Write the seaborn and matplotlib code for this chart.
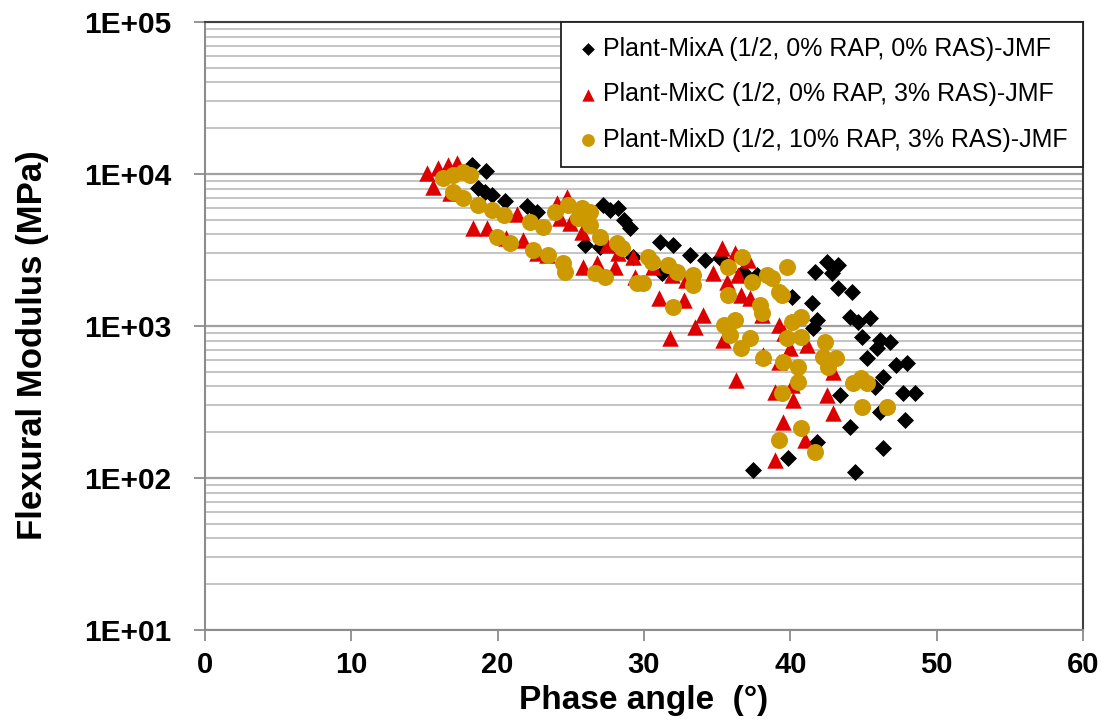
import numpy as np
import pandas as pd
import matplotlib
matplotlib.use("Agg")
import matplotlib.pyplot as plt
from matplotlib.ticker import FixedLocator, FuncFormatter, LogLocator, NullFormatter
import seaborn as sns

# ---------------- data ----------------
labels = ["Plant-MixA (1/2, 0% RAP, 0% RAS)-JMF",
          "Plant-MixC (1/2, 0% RAP, 3% RAS)-JMF",
          "Plant-MixD (1/2, 10% RAP, 3% RAS)-JMF"]

mixA_phase = [18.25, 19.2, 18.66, 19.14, 19.62, 20.5, 22.0, 22.7, 27.2, 27.7, 28.2, 28.6,
              29.05, 26.0, 27.0, 29.25, 31.1, 32.0, 33.15, 34.2, 35.2, 31.24, 36.77, 37.7,
              41.7, 42.5, 42.86, 43.27, 43.27, 44.2, 40.1, 41.5, 41.8, 41.56, 44.1, 44.6,
              45.45, 44.9, 46.1, 46.8, 45.9, 45.25, 47.2, 48.0, 46.35, 45.8, 43.4, 47.7,
              48.5, 46.1, 47.85, 44.1, 41.8, 46.3, 44.4, 39.85, 37.46]
mixA_mod = [11460, 10470, 8090, 7620, 7280, 6640, 6150, 5620, 6250, 5800, 5970, 4980,
            4410, 3410, 3310, 2840, 3570, 3410, 2930, 2720, 2800, 2230, 2270, 2170,
            2270, 2640, 2230, 2520, 1780, 1670, 1550, 1420, 1090, 970, 1150, 1060,
            1130, 850, 810, 785, 717, 615, 553, 571, 462, 397, 352, 362,
            362, 272, 241, 217, 173, 157, 109, 136, 113]

mixC_phase = [15.17, 15.93, 16.6, 17.2, 15.58, 16.75, 18.3, 19.3, 20.6, 21.3, 21.7, 22.7,
              23.4, 24.06, 24.74, 24.27, 24.95, 25.77, 25.84, 26.8, 28.0, 27.5, 28.2, 29.25,
              29.4, 30.6, 31.0, 32.7, 31.9, 32.9, 35.3, 36.2, 37.1, 34.7, 35.7, 36.4,
              36.6, 37.25, 38.07, 34.0, 33.5, 31.8, 35.4, 39.2, 39.6, 41.15, 38.1, 39.2,
              40.0, 42.9, 36.3, 40.1, 38.96, 40.2, 42.5, 42.9, 39.5, 41.0, 38.96]
mixC_mod = [10150, 10940, 11460, 11810, 8210, 7500, 4410, 4410, 3790, 5460, 3680, 3020,
            2930, 6440, 7060, 5140, 4770, 4150, 2440, 2590, 2440, 3410, 3020, 2840,
            2100, 2440, 1530, 1480, 2170, 2010, 3260, 3020, 2720, 2230, 1950, 2170,
            1600, 1530, 1180, 1180, 985, 834, 810, 1016, 900, 750, 644, 580,
            717, 498, 442, 409, 368, 326, 352, 268, 234, 178, 131]

mixD_phase = [16.27, 16.95, 17.6, 18.1, 16.95, 17.6, 18.66, 19.6, 20.4, 22.2, 23.1, 19.96,
              20.85, 22.4, 23.45, 24.47, 24.6, 23.9, 24.8, 25.77, 26.3, 25.5, 26.3, 27.0,
              28.16, 28.5, 26.66, 27.34, 29.5, 29.9, 30.3, 30.55, 31.65, 32.26, 33.36, 33.36,
              32.0, 35.75, 36.7, 37.4, 38.4, 38.75, 39.8, 39.2, 39.4, 35.75, 37.9, 38.07,
              35.5, 36.2, 35.9, 37.25, 36.6, 40.1, 40.7, 39.8, 40.7, 38.14, 39.5, 40.5,
              42.4, 42.2, 43.1, 42.6, 40.5, 44.3, 44.8, 45.25, 44.9, 46.6, 39.4, 40.7,
              39.2, 41.7]
mixD_mod = [9410, 9850, 10310, 9850, 7620, 6950, 6250, 5800, 5370, 4830, 4480, 3850,
            3520, 3160, 2930, 2600, 2270, 5620, 6250, 5970, 5620, 5140, 4620, 3850,
            3520, 3260, 2230, 2100, 1920, 1920, 2840, 2640, 2520, 2270, 2170, 1860,
            1330, 2440, 2840, 1950, 2170, 2070, 2440, 1670, 1600, 1600, 1370, 1220,
            1016, 1090, 873, 834, 717, 1060, 1150, 834, 847, 615, 580, 537,
            785, 625, 615, 537, 428, 422, 455, 422, 293, 293, 362, 213,
            178, 148]

x_ticks = [0, 10, 20, 30, 40, 50, 60]
y_ticks = [1e1, 1e2, 1e3, 1e4, 1e5]

# ---------------- styling ----------------
sns.set_theme(style="white")
plt.rcParams['font.family'] = ['Liberation Sans', 'DejaVu Sans']
plt.rcParams['text.color'] = 'black'
plt.rcParams['axes.labelcolor'] = 'black'

colors = ["#000000", "#DD0000", "#CC9900"]
markers = ["D", "^", "o"]
sizes = [75, 140, 150]

fig = plt.figure(figsize=(11.07, 7.21), dpi=100)
ax = fig.add_axes([205/1107, 1 - 630/721, (1083-205)/1107, (630-22)/721])

series = [(mixA_phase, mixA_mod), (mixC_phase, mixC_mod), (mixD_phase, mixD_mod)]
for (xs, ys), lab, c, m, s in zip(series, labels, colors, markers, sizes):
    df = pd.DataFrame({"Phase angle": xs, "Modulus": ys})
    sns.scatterplot(data=df, x="Phase angle", y="Modulus", ax=ax, color=c, marker=m,
                    s=s, linewidth=0, label=lab, zorder=3)

ax.set_yscale("log")
ax.set_xlim(0, 60)
ax.set_ylim(1e1, 1e5)
ax.xaxis.set_major_locator(FixedLocator(x_ticks))
ax.yaxis.set_major_locator(FixedLocator(y_ticks))
ax.yaxis.set_minor_locator(LogLocator(base=10, subs=np.arange(2, 10)))
ax.yaxis.set_minor_formatter(NullFormatter())
ax.yaxis.set_major_formatter(FuncFormatter(lambda v, p: f"{v:.0E}"))

ax.yaxis.grid(True, which="major", color="#A0A0A0", lw=1.6, zorder=0)
ax.yaxis.grid(True, which="minor", color="#C4C4C4", lw=1.4, zorder=0)
ax.xaxis.grid(False)
ax.set_axisbelow(True)

for side in ["left", "bottom"]:
    ax.spines[side].set_color("#8C8C8C")
    ax.spines[side].set_linewidth(1.5)
for side in ["top", "right"]:
    ax.spines[side].set_color("#404040")
    ax.spines[side].set_linewidth(1.5)

ax.tick_params(axis="both", which="major", direction="out", length=8, width=1.3,
               color="#8C8C8C", labelcolor="black", bottom=True, left=True)
ax.tick_params(axis="y", which="minor", length=0, left=False)
ax.tick_params(axis="y", which="major", pad=16)
ax.tick_params(axis="x", which="major", pad=7)

for t in ax.get_yticklabels():
    t.set_fontsize(21.5)
    t.set_fontweight("bold")
for t in ax.get_xticklabels():
    t.set_fontsize(21)
    t.set_fontweight("bold")

ax.set_xlabel("Phase angle  (°)", fontsize=24, fontweight="bold", color="black")
ax.xaxis.label.set_va("center")
ax.xaxis.set_label_coords(0.5, -(701 - 630) / 608)
ax.set_ylabel("Flexural Modulus (MPa)", fontsize=25, fontweight="bold", color="black")
ax.yaxis.label.set_va("center")
ax.yaxis.set_label_coords(-(205 - 32) / 878, (630 - 345) / 608)

leg = ax.legend(loc="upper right", borderaxespad=0, frameon=True, fancybox=False,
                prop={"family": ["Liberation Sans", "DejaVu Sans"], "size": 18},
                markerscale=0.75, handletextpad=0.1, handlelength=1.0,
                labelspacing=0.85, borderpad=0.6)
leg.get_frame().set_edgecolor("#202020")
leg.get_frame().set_linewidth(1.3)
leg.get_frame().set_alpha(1)
leg.set_zorder(5)
for t in leg.get_texts():
    t.set_color("black")

fig.savefig("out.png", dpi=100)
